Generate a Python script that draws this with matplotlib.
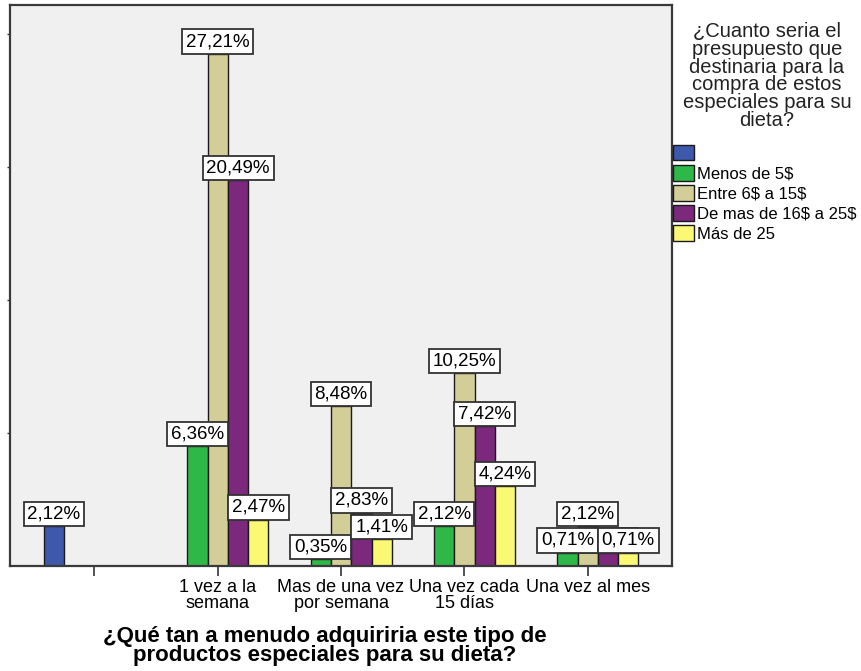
import matplotlib
matplotlib.use("Agg")
import matplotlib.pyplot as plt
import numpy as np

plt.rcParams['font.family'] = ['Liberation Sans', 'DejaVu Sans']
plt.rcParams['text.parse_math'] = False

# ---- data ----
categories = ["", "1 vez a la\nsemana", "Mas de una vez\npor semana",
              "Una vez cada\n15 días", "Una vez al mes"]
series_names = ["", "Menos de 5$", "Entre 6$ a 15$", "De mas de 16$ a 25$", "Más de 25"]
series_colors = ["#3E58AC", "#2EB848", "#D3CE97", "#7C287D", "#FBF873"]
blank_vals = [2.12, None, None, None, None]
menos5_vals = [None, 6.36, 0.35, 2.12, 0.71]
entre6_15_vals = [None, 27.21, 8.48, 10.25, 2.12]
de16_25_vals = [None, 20.49, 2.83, 7.42, 0.71]
mas25_vals = [None, 2.47, 1.41, 4.24, 0.71]
series_values = [blank_vals, menos5_vals, entre6_15_vals, de16_25_vals, mas25_vals]
total_n = 283
y_tick_counts = [20, 40, 60, 80]

legend_title = "¿Cuanto seria el\npresupuesto que\ndestinaria para la\ncompra de estos\nespeciales para su\ndieta?"
x_title = "¿Qué tan a menudo adquiriria este tipo de\nproductos especiales para su dieta?"

# ---- figure ----
W, H = 862, 671
fig = plt.figure(figsize=(W / 100, H / 100), dpi=100)
ax = fig.add_axes([10 / W, 1 - 566 / H, 662 / W, 561 / H])
ax.set_facecolor("#F0F0F0")

x = np.arange(len(categories))
bw = 0.1646
label_z = [5, 5, 5, 4.5, 5.5]
handles = []
for k, (vals, col, name) in enumerate(zip(series_values, series_colors, series_names)):
    xs = [x[i] + (k - 2) * bw for i, v in enumerate(vals) if v is not None]
    hs = [v for v in vals if v is not None]
    bc = ax.bar(xs, hs, width=bw, color=col, edgecolor="#1a1a1a", linewidth=1.0, zorder=2)
    handles.append(bc)
    for xi, v in zip(xs, hs):
        ax.annotate(f"{v:.2f}%".replace(".", ","), xy=(xi, v), xytext=(0, 2.7),
                    textcoords="offset points", ha="center", va="bottom", fontsize=13.5,
                    zorder=label_z[k],
                    bbox=dict(boxstyle="square,pad=0.2", facecolor="white",
                              edgecolor="#333333", linewidth=1.3))

ax.set_xlim(-0.685, 4.684)
ax.set_ylim(0, 29.81)
ax.set_xticks(x)
ax.set_xticklabels(categories, fontsize=13, linespacing=0.95)
ax.set_yticks([c * 100 / total_n for c in y_tick_counts])
ax.set_yticklabels([])
ax.tick_params(axis="x", direction="out", length=7.2, width=1.2, color="#333333", pad=2)
ax.tick_params(axis="y", direction="out", length=2.2, width=1.0, color="#333333")
for s in ax.spines.values():
    s.set_color("#3a3a3a")
    s.set_linewidth(1.6)

leg = ax.legend(handles=handles, labels=series_names, loc="upper left",
                bbox_to_anchor=(673 / W, 1 - 145 / H), bbox_transform=fig.transFigure,
                frameon=False, fontsize=12, handlelength=1.25, handleheight=1.05,
                handletextpad=0.2, labelspacing=0.22, borderpad=0, borderaxespad=0)

fig.text(767 / W, 1 - 22 / H, legend_title, ha="center", va="top", fontsize=14.5,
         linespacing=0.92, multialignment="center", color="#222222")
fig.text(325 / W, 1 - 626 / H, x_title, ha="center", va="top", fontsize=16,
         fontweight="bold", linespacing=0.88)

fig.savefig("out.png", dpi=100)
